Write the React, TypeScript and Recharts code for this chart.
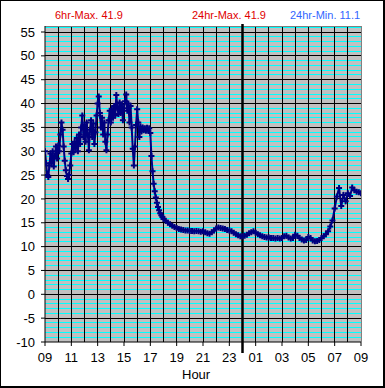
import React from "react";
import { LineChart, Line, XAxis, YAxis, ReferenceLine, ReferenceArea } from "recharts";

// 5-minute readings, 09:00 to 17:55
const dayTemps = [
  30.0, 27.5, 25.0, 24.6, 27.0, 29.5, 27.5, 30.0, 26.8, 29.0, 31.0, 28.5,
  31.2, 30.0, 33.5, 36.0, 34.5, 31.0, 28.0, 26.0, 24.8, 24.2, 25.0, 27.0,
  29.5, 31.5, 29.8, 32.0, 30.5, 32.8, 30.0, 33.5, 31.5, 35.0, 37.5, 33.0,
  35.5, 32.0, 36.0, 33.5, 30.2, 34.5, 36.5, 33.0, 35.8, 31.5, 34.0, 37.5,
  40.0, 41.5, 38.0, 35.0, 37.0, 33.5, 36.0, 32.0, 30.2, 33.5, 36.5, 38.5,
  36.0, 38.8, 37.0, 39.5, 37.5, 41.8, 39.0, 37.8, 40.2, 38.0, 39.8, 36.5,
  39.0, 40.5, 41.9, 38.5, 40.0, 36.0, 39.5, 35.0, 30.5, 27.0, 31.0, 35.5,
  38.8, 36.0, 33.0, 35.2, 34.2, 35.0, 34.4, 34.8, 34.3, 34.9, 34.5, 34.8,
  33.8, 29.0, 25.8, 23.2, 21.6, 20.3, 19.2, 18.3, 17.6, 17.0, 16.6, 16.2,
];

// 10-minute readings, 18:00 to 09:00
const nightTemps = [
  15.8, 15.4, 15.0, 14.7, 14.4, 14.1,
  13.9, 13.7, 13.6, 13.5, 13.4, 13.4,
  13.3, 13.3, 13.2, 13.3, 13.2, 13.1,
  13.2, 13.0, 12.8, 12.7, 13.0, 13.4,
  13.8, 14.0, 13.9, 13.8, 13.7, 13.5,
  13.4, 13.2, 12.9, 12.6, 12.4, 12.2,
  12.2, 12.3, 12.5, 12.8, 13.0, 13.2,
  12.9, 12.6, 12.4, 12.2, 12.0, 11.9,
  11.9, 11.8, 11.8, 11.7, 11.8, 11.7,
  11.8, 12.2, 12.3, 11.9, 11.7, 11.8,
  12.5, 12.3, 11.8, 11.5, 11.3, 11.4,
  12.0, 11.8, 11.3, 11.1, 11.2, 11.4,
  11.8, 12.2, 12.6, 13.2, 14.2, 15.5,
  18.0, 20.5, 22.3, 18.5, 20.8, 19.5,
  21.2, 20.6, 22.4, 21.8, 21.5, 21.4,
  21.2,
];

const hourTicks = [0, 2, 4, 6, 8, 10, 12, 14, 16, 18, 20, 22, 24];
const hourLines = [1, 2, 3, 4, 5, 6, 7, 8, 9, 10, 11, 12, 13, 14, 16, 17, 18, 19, 20, 21, 22, 23];
const tempTicks = [-10, -5, 0, 5, 10, 15, 20, 25, 30, 35, 40, 45, 50, 55];
const minorTemps = [
  -9, -8, -7, -6, -4, -3, -2, -1, 1, 2, 3, 4, 6, 7, 8, 9, 11, 12, 13, 14,
  16, 17, 18, 19, 21, 22, 23, 24, 26, 27, 28, 29, 31, 32, 33, 34, 36, 37, 38, 39,
  41, 42, 43, 44, 46, 47, 48, 49, 51, 52, 53, 54, 56,
];
const startHour = 9;
const midnight = 15;
const yMin = -10;
const yMax = 56.26;

const data = [
  ...dayTemps.map((v, i) => ({ t: (i * 5) / 60, v })),
  ...nightTemps.map((v, i) => ({ t: 9 + (i * 10) / 60, v })),
];

const font = "'Liberation Sans', Arial, sans-serif";
const navy = "#000080";

const PlusDot = (props: any) => {
  const { cx, cy, index } = props;
  if (cx == null || cy == null) return null;
  return (
    <path
      key={`p-${index}`}
      d={`M${cx - 3},${cy}h6M${cx},${cy - 3}v6`}
      stroke={navy}
      strokeWidth={2}
      fill="none"
    />
  );
};

const fmtHour = (h: number) => String((startHour + h) % 24).padStart(2, "0");

export default function App() {
  return (
    <div style={{ position: "absolute", left: 0, top: 0, width: 385, height: 388, background: "#fff", fontFamily: font }}>
      <LineChart width={385} height={388} data={data} margin={{ top: 26, right: 24, left: 0, bottom: 0 }}>
        <XAxis
          type="number"
          dataKey="t"
          domain={[0, 24]}
          ticks={hourTicks}
          tickFormatter={fmtHour}
          height={46}
          tickSize={4}
          tickMargin={7}
          axisLine={{ stroke: "#000" }}
          tickLine={{ stroke: "#000" }}
          tick={{ fill: "#000", fontSize: 13, fontFamily: font }}
          allowDataOverflow
        />
        <YAxis
          type="number"
          domain={[yMin, yMax]}
          ticks={tempTicks}
          width={45}
          tickSize={4}
          tickMargin={6}
          axisLine={{ stroke: "#000" }}
          tickLine={{ stroke: "#000" }}
          tick={{ fill: "#000", fontSize: 13, fontFamily: font }}
          allowDataOverflow
        />
        <ReferenceArea x1={0} x2={24} y1={yMin} y2={yMax} fill="#C0C0C0" fillOpacity={1} stroke="none" />
        {minorTemps.map((y) => (
          <ReferenceLine key={`m${y}`} y={y} stroke="#00FFFF" strokeWidth={1} shapeRendering="crispEdges" />
        ))}
        {tempTicks.slice(1).map((y) => (
          <ReferenceLine key={`M${y}`} y={y} stroke="#000" strokeWidth={1} shapeRendering="crispEdges" />
        ))}
        {hourLines.map((x) => (
          <ReferenceLine key={`h${x}`} x={x} stroke="#000" strokeWidth={1} shapeRendering="crispEdges" />
        ))}
        <ReferenceLine y={yMax} stroke="#808080" strokeWidth={1} shapeRendering="crispEdges" />
        <ReferenceLine x={24} stroke="#808080" strokeWidth={1} shapeRendering="crispEdges" />
        <ReferenceLine
          segment={[{ x: midnight, y: 56.68 }, { x: midnight, y: -12.3 }]}
          stroke="#000"
          strokeWidth={2.5}
          ifOverflow="visible"
        />
        <Line
          type="linear"
          dataKey="v"
          stroke={navy}
          strokeWidth={2}
          dot={PlusDot}
          isAnimationActive={false}
        />
      </LineChart>
      <div style={{ position: "absolute", left: 55, top: 9, fontSize: 11, lineHeight: "12px", color: "#E00000" }}>6hr-Max. 41.9</div>
      <div style={{ position: "absolute", left: 192, top: 9, fontSize: 11, lineHeight: "12px", color: "#E00000" }}>24hr-Max. 41.9</div>
      <div style={{ position: "absolute", left: 290, top: 9, fontSize: 11, lineHeight: "12px", color: "#3366FF" }}>24hr-Min. 11.1</div>
      <div style={{ position: "absolute", left: 182, top: 367, fontSize: 13, lineHeight: "15px", color: "#000" }}>Hour</div>
      <div
        style={{
          position: "absolute",
          left: 0,
          top: 0,
          width: 385,
          height: 388,
          boxSizing: "border-box",
          borderLeft: "1px solid #000",
          borderTop: "1px solid #000",
          borderRight: "2px solid #000",
          borderBottom: "2px solid #000",
          pointerEvents: "none",
        }}
      />
    </div>
  );
}
